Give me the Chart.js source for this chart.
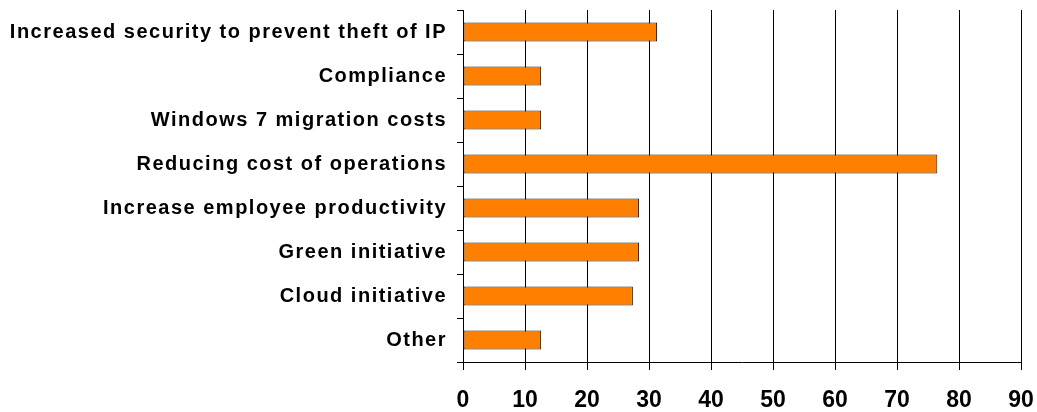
<!DOCTYPE html>
<html>
<head>
<meta charset="utf-8">
<script src="https://cdn.jsdelivr.net/npm/chart.js@4/dist/chart.umd.min.js"></script>
<style>
  html, body { margin: 0; padding: 0; background: #fff; }
  #wrap { width: 1037px; height: 412px; position: relative; }
</style>
</head>
<body>
<div id="wrap"><canvas id="chart"></canvas></div>
<script>
// Data
const categories = [
    "Increased security to prevent theft of IP",
    "Compliance",
    "Windows 7 migration costs",
    "Reducing cost of operations",
    "Increase employee productivity",
    "Green initiative",
    "Cloud initiative",
    "Other"
];
const values = [31.3, 12.6, 12.6, 76.5, 28.4, 28.4, 27.4, 12.6];
const xTicks = [0, 10, 20, 30, 40, 50, 60, 70, 80, 90];

const labelFont = "'Liberation Sans', Arial, sans-serif";

new Chart(document.getElementById("chart").getContext("2d"), {
    type: "bar",
    data: {
        labels: categories,
        datasets: [
            {
                data: values,
                backgroundColor: "#ff8000",
                borderColor: "#2a1600",
                borderWidth: 1,
                borderSkipped: false,
                categoryPercentage: 1,
                barPercentage: 0.43,
            },
        ],
    },
    options: {
        indexAxis: "y",
        responsive: true,
        maintainAspectRatio: false,
        animation: false,
        layout: { padding: { top: 10, right: 16, left: 0, bottom: 0 } },
        plugins: {
            legend: { display: false },
            tooltip: { enabled: false },
        },
        scales: {
            x: {
                min: 0,
                max: 90,
                afterBuildTicks: (scale) => {
                    scale.ticks = xTicks.map((v) => ({ value: v }));
                },
                afterFit: (scale) => {
                    scale.height = 50;
                    scale.paddingLeft = 0;
                    scale.paddingRight = 0;
                },
                grid: {
                    color: "#000",
                    lineWidth: 1,
                    drawTicks: true,
                    tickLength: 8,
                },
                border: { display: true, color: "#000", width: 1 },
                ticks: {
                    color: "#000",
                    padding: 17,
                    font: { family: labelFont, size: 23, weight: "bold" },
                },
            },
            y: {
                afterFit: (scale) => {
                    scale.width = 463;
                    scale.paddingTop = 0;
                    scale.paddingBottom = 0;
                },
                afterUpdate: (scale) => {
                    // wider letter spacing on the category labels, like the original
                    if (!scale._spaced) {
                        const draw = scale.drawLabels;
                        scale.drawLabels = function (area) {
                            this.ctx.save();
                            this.ctx.letterSpacing = "1.5px";
                            draw.call(this, area);
                            this.ctx.restore();
                        };
                        scale._spaced = true;
                    }
                },
                grid: {
                    color: "#000",
                    lineWidth: 1,
                    drawOnChartArea: false,
                    drawTicks: true,
                    tickLength: 6,
                },
                border: { display: true, color: "#000", width: 1 },
                ticks: {
                    color: "#000",
                    padding: 10,
                    font: { family: labelFont, size: 20, weight: "bold" },
                },
            },
        },
    },
});
</script>
</body>
</html>
